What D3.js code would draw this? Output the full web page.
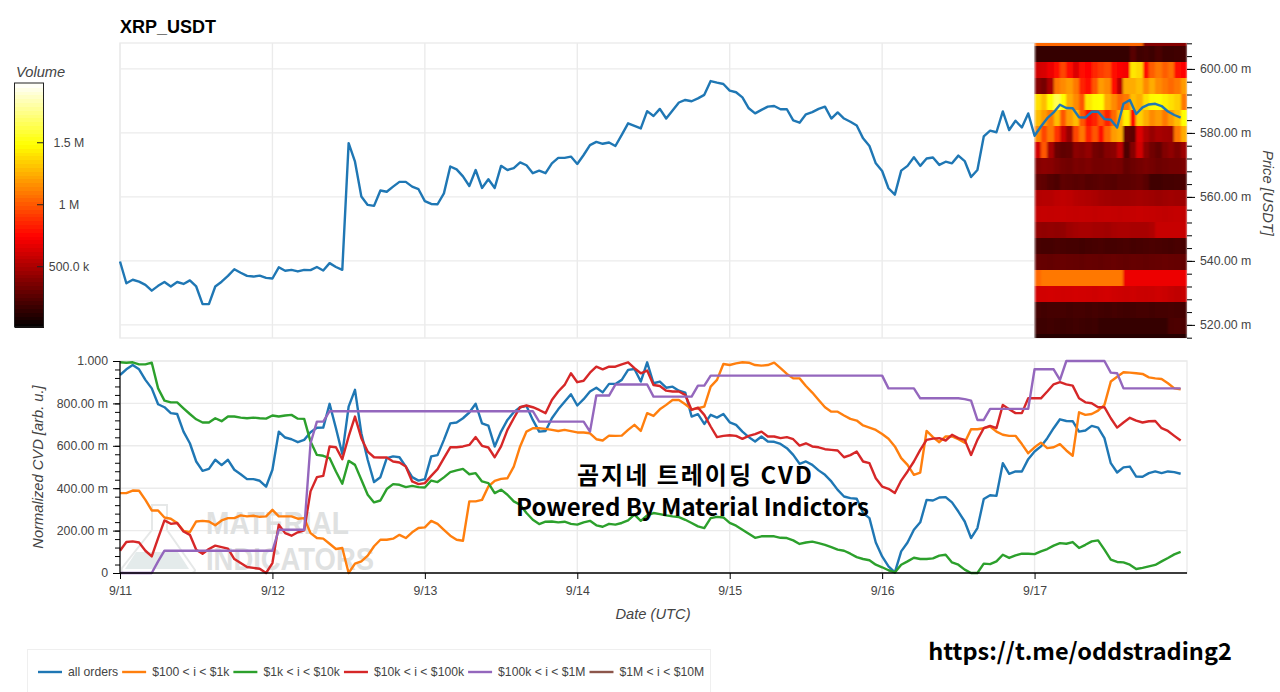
<!DOCTYPE html>
<html lang="en">
<head>
<meta charset="UTF-8">
<title>XRP_USDT CVD</title>
<style>
    body { margin: 0; background: #fff; font-family: "Liberation Sans", Arial, sans-serif; }
    svg { display: block; }
    .tick text { font-family: "Liberation Sans", Arial, sans-serif; font-size: 12.3px; fill: #444; }
    .axis-label { font-family: "Liberation Sans", Arial, sans-serif; font-size: 14.7px; font-style: italic; fill: #444; }
    .overlay { font-family: "Noto Sans CJK KR", "Noto Sans", sans-serif; font-weight: 700; fill: #000; }
</style>
<script src="https://d3js.org/d3.v7.min.js"></script>
</head>
<body>
<svg id="chart" width="1280" height="692"></svg>
<script>
// hourly samples, 9/11 00:00 to 9/17 23:00
const dayLabels = ["9/11", "9/12", "9/13", "9/14", "9/15", "9/16", "9/17"];
const dayHours = [0, 24, 48, 72, 96, 120, 144];

const priceTicks = [520, 540, 560, 580, 600];
const priceTickLabels = ["520.00 m", "540.00 m", "560.00 m", "580.00 m", "600.00 m"];
const cvdTicks = [0, 200, 400, 600, 800, 1000];
const cvdTickLabels = ["0", "200.00 m", "400.00 m", "600.00 m", "800.00 m", "1.000"];
const volumeTicks = [500, 1000, 1500];
const volumeTickLabels = ["500.0 k", "1 M", "1.5 M"];

const legendLabels = ["all orders", "$100 < i < $1k", "$1k < i < $10k", "$10k < i < $100k", "$100k < i < $1M", "$1M < i < $10M"];
const seriesColors = ["#1f77b4", "#ff7f0e", "#2ca02c", "#d62728", "#9467bd", "#8c564b"];

const price = [
    539.8,533.0,534.1,533.5,532.5,530.7,532.2,533.4,532.0,533.4,532.8,533.9,532.0,526.5,526.5,532.0,533.5,535.3,537.4,536.3,535.3,535.1,535.4,534.7,
    534.5,538.0,536.9,537.2,536.7,537.2,537.1,538.1,537.0,539.3,538.1,537.2,576.8,571.0,560.1,557.5,557.2,562.0,561.6,563.2,564.7,564.7,563.2,562.4,
    558.7,557.8,557.7,561.1,569.5,568.6,566.4,563.4,568.4,562.8,565.5,562.8,569.7,568.4,569.0,570.8,569.9,567.4,568.2,567.4,570.5,572.2,572.2,572.6,
    570.3,573.1,576.2,577.2,576.6,577.0,575.9,579.4,583.0,582.2,581.4,586.8,585.3,587.5,584.5,587.0,589.5,590.3,589.9,590.8,591.9,596.2,595.7,595.3,
    593.2,592.7,591.1,587.7,586.1,587.2,588.2,588.4,587.4,587.4,583.9,583.2,585.8,586.5,587.5,588.2,584.5,586.4,584.5,583.5,582.3,578.3,575.9,570.5,
    568.1,562.7,560.7,568.2,569.7,572.4,569.7,572.0,572.3,570.0,571.0,570.5,572.9,571.2,566.2,568.4,578.9,580.7,580.2,586.7,580.9,583.8,581.7,586.1,
    579.1,582.0,584.6,586.4,588.8,587.8,587.7,584.9,584.8,586.6,586.6,584.3,584.1,581.7,589.1,590.3,585.9,588.0,588.9,589.1,588.4,586.7,585.6,584.8
];

const allOrders = [
    934,961,981,961,911,871,796,782,754,750,667,612,526,482,491,534,509,534,487,466,443,443,435,407,
    487,667,639,631,617,628,664,685,686,798,683,562,785,864,659,534,429,452,542,550,546,502,452,436,
    443,550,556,628,706,710,730,757,798,706,695,597,667,722,758,782,788,722,667,670,730,772,808,843,
    790,820,856,874,852,892,892,911,958,962,903,994,895,903,874,879,860,851,738,749,703,746,733,750,
    711,699,667,641,620,644,620,619,609,589,557,515,526,510,484,463,432,392,361,353,350,283,259,144,
    78,31,3,102,144,204,239,345,342,356,358,333,290,243,165,212,349,367,364,518,468,479,479,537,
    573,597,636,683,725,717,716,667,672,694,686,636,518,474,498,502,455,454,471,479,471,479,476,468
];
const range100to1k = [
    377,377,389,388,345,295,295,262,256,236,199,193,243,246,243,225,248,259,259,272,267,270,265,267,
    298,267,267,267,256,259,188,165,162,138,113,118,0,44,55,82,126,157,157,162,180,165,192,212,
    215,246,232,204,176,157,152,338,338,345,408,435,444,447,502,597,667,683,683,680,675,670,675,669,
    663,663,659,631,625,648,647,648,675,699,670,754,741,772,793,816,816,796,772,777,785,879,911,986,
    981,989,994,992,981,978,981,992,966,939,918,918,882,851,816,782,761,761,743,727,719,696,686,675,
    656,633,597,542,510,463,474,670,641,617,644,644,631,615,678,678,683,691,667,652,647,647,608,565,
    593,615,589,593,608,578,553,758,746,750,766,793,903,926,947,945,942,939,923,918,915,895,871,867
];
const range1kto10k = [
    994,992,994,984,984,992,871,813,805,805,777,750,725,710,710,730,716,738,738,733,730,733,730,728,
    743,738,743,746,728,727,620,557,553,542,479,421,529,510,440,369,333,342,396,419,416,405,411,405,
    403,436,429,451,476,484,491,466,471,432,424,377,393,369,338,322,283,251,231,242,243,239,242,232,
    228,239,246,225,218,232,228,236,248,275,246,272,283,278,272,267,264,251,236,220,212,259,265,262,
    236,223,204,185,166,173,173,173,166,165,154,137,144,148,141,133,122,110,105,91,75,66,60,39,
    27,13,3,39,55,72,66,66,69,82,86,50,39,16,0,0,44,42,55,86,71,83,91,91,
    89,102,113,129,141,138,146,118,133,149,154,110,63,52,50,39,19,24,31,38,55,71,88,100
];
const range10kto100k = [
    105,146,149,144,105,78,165,248,232,236,196,180,110,91,113,129,122,115,66,47,28,24,20,0,
    47,228,188,176,192,201,385,452,458,597,593,537,644,738,636,573,546,545,545,526,521,502,432,419,
    424,458,490,542,593,593,597,604,641,600,592,546,597,675,730,782,790,782,769,754,816,856,887,942,
    900,907,945,973,961,973,973,984,994,966,942,955,887,882,860,856,856,840,769,780,746,691,641,647,
    650,647,633,647,655,667,644,644,636,641,631,601,612,597,593,584,581,578,546,556,573,526,518,447,
    408,397,377,436,479,526,581,628,634,636,625,652,636,628,557,628,683,694,683,793,772,754,754,824,
    824,824,856,890,900,890,884,824,805,801,782,782,730,686,710,732,719,710,716,717,683,670,647,625
];
const range100kto1M = [
    0,0,0,0,0,0,55,105,105,105,105,105,105,105,105,105,105,105,105,105,105,105,105,105,
    105,204,204,204,204,204,612,714,714,763,763,763,763,763,763,763,763,763,763,763,763,763,763,763,
    763,763,763,763,763,763,763,763,763,763,763,763,763,763,763,763,763,763,714,714,714,714,714,714,
    714,714,667,837,837,837,889,889,889,889,889,889,832,832,832,832,832,832,832,884,884,931,931,931,
    931,931,931,931,931,931,931,931,931,931,931,931,931,931,931,931,931,931,931,931,931,931,931,931,
    931,871,871,871,871,871,824,824,824,824,824,824,824,820,813,722,722,774,774,774,774,774,774,774,
    961,961,961,961,911,1000,1000,1000,1000,1000,1000,1000,945,942,871,871,871,871,871,871,871,871,871,871
];

// volume heatmap: one row per 5 m price bin (lower edge), one value per hour from 9/17
const binLows = [607.1,602.1,597.1,592.1,587.1,582.1,577.1,572.1,567.1,562.1,557.1,552.1,547.1,542.1,537.1,532.1,527.1,522.1,517.1,512.1];
const binSize = 5;
const heatHourStart = 144;
const heatVolume = [
    [1050,1050,1050,1050,1050,1050,1050,1050,1050,1050,1050,1050,1050,1050,1050,1050,1050,400,400,400,400,400,400,400],
    [170,170,170,170,170,170,170,170,170,170,170,170,170,170,170,270,200,210,190,230,190,190,200,210],
    [620,640,700,780,950,800,650,780,760,860,920,960,800,740,720,1420,1380,780,1020,1100,1020,1080,800,760],
    [400,350,500,1100,1150,1200,1100,850,800,1000,1200,1150,800,550,1250,1250,1300,1150,1250,1150,1100,1050,1100,1200],
    [1400,1300,1500,1650,1500,1250,1150,1000,1420,1480,1500,1250,1150,1050,1100,1300,1250,1400,1480,1500,1450,1400,1350,1100],
    [1300,1200,1100,1300,1000,1200,1300,1000,800,850,1000,850,1050,1250,1450,800,1350,1250,1150,1200,1100,1200,1300,1500],
    [1150,950,1100,900,600,450,950,1100,850,1000,800,1050,1200,1250,300,280,650,520,450,500,480,470,1100,1250],
    [620,1000,500,320,290,300,420,400,440,350,330,400,420,560,240,400,620,420,340,300,390,430,380,470],
    [400,420,410,380,350,340,370,360,380,350,350,360,370,360,300,330,350,370,350,330,340,350,350,380],
    [300,290,250,240,290,280,270,280,260,270,280,270,260,280,280,290,300,270,200,200,210,210,220,230],
    [530,540,540,560,570,560,540,530,520,510,490,480,470,470,470,480,490,480,470,460,470,480,470,470],
    [580,585,580,585,590,585,580,585,580,575,580,585,580,575,580,585,590,585,580,575,570,575,580,575],
    [440,430,440,430,440,470,490,500,500,490,490,480,500,510,510,500,500,500,520,590,590,590,590,590],
    [220,215,210,225,220,215,210,205,215,220,225,215,210,220,225,215,220,225,230,225,220,215,225,220],
    [310,305,300,310,315,310,305,300,310,305,300,310,315,305,300,310,305,300,305,310,315,310,305,300],
    [1050,1100,1100,1100,1100,1100,1100,1100,1100,1100,1100,1100,1100,1100,700,700,700,700,700,700,700,700,700,700],
    [620,620,625,620,615,620,625,620,615,610,620,625,610,605,600,610,600,595,600,610,600,580,570,590],
    [210,205,210,215,210,205,210,215,205,210,205,200,210,205,200,205,210,215,205,210,215,220,215,210],
    [190,190,195,190,185,190,195,190,185,190,170,165,170,165,170,165,170,165,170,165,170,230,240,230],
    [130,130,130,130,130,130,130,130,130,130,130,130,130,130,130,130,130,130,130,130,130,130,130,130]
];

const svg = d3.select("#chart");
const left = 120, right = 1187;
const priceTop = 43, priceBottom = 338;
const cvdTop = 361, cvdBottom = 573;

const x = d3.scaleLinear().domain([0, 168]).range([left, right]);
const yPrice = d3.scaleLinear().domain([515.9, 608.1]).range([priceBottom, priceTop]);
const yCvd = d3.scaleLinear().domain([0, 1000]).range([cvdBottom, cvdTop]);
const yBar = d3.scaleLinear().domain([14, 1982]).range([327, 83]);
const hot = d3.scaleLinear().domain([14, 752, 1490, 1982]).range(["#000000", "#ff0000", "#ffff00", "#ffffff"]).clamp(true);

function drawGrid(top, bottom, yScale, ticks) {
    const g = svg.append("g").attr("stroke", "#ebebeb").attr("stroke-width", 1.4);
    g.append("rect").attr("x", left).attr("y", top).attr("width", right - left).attr("height", bottom - top).attr("fill", "none");
    g.selectAll("line.v").data(dayHours).join("line")
        .attr("x1", d => x(d)).attr("x2", d => x(d)).attr("y1", top).attr("y2", bottom);
    g.selectAll("line.h").data(ticks).join("line")
        .attr("x1", left).attr("x2", right).attr("y1", d => yScale(d)).attr("y2", d => yScale(d));
}
drawGrid(priceTop, priceBottom, yPrice, priceTicks);
drawGrid(cvdTop, cvdBottom, yCvd, cvdTicks);

// watermark sits under the lines
const mark = svg.append("g");
mark.append("path")
    .attr("d", "M152,505 L167,505 L167,530 L195,570 Q195,573 190,573 L125,573 Q120,573 122,568 L152,530 Z")
    .attr("fill", "none").attr("stroke", "#e6e8e8").attr("stroke-width", 2);
mark.append("path")
    .attr("d", "M136,552 L178,552 L189,569 L125,569 Z")
    .attr("fill", "#e4ebeb");
mark.append("text").attr("x", 206).attr("y", 534).text("MATERIAL")
    .attr("textLength", 143).attr("lengthAdjust", "spacingAndGlyphs")
    .attr("font-size", 32).attr("font-weight", 700).attr("fill", "#dfe1e1");
mark.append("text").attr("x", 206).attr("y", 570).text("INDICATORS")
    .attr("textLength", 168).attr("lengthAdjust", "spacingAndGlyphs")
    .attr("font-size", 32).attr("font-weight", 700).attr("fill", "#dfe1e1");

// heatmap, softened sideways like the resampled image in the original
const defs = svg.append("defs");
defs.append("filter").attr("id", "soften").attr("x", 0).attr("y", 0).attr("width", 1).attr("height", 1)
    .append("feGaussianBlur").attr("stdDeviation", "1.3 0.4").attr("edgeMode", "duplicate");
const heat = svg.append("g").attr("filter", "url(#soften)").attr("shape-rendering", "crispEdges");
heatVolume.forEach((row, r) => {
    const hiPrice = Math.min(binLows[r] + binSize, yPrice.domain()[1]);
    const loPrice = Math.max(binLows[r], yPrice.domain()[0]);
    heat.append("g").selectAll("rect").data(row).join("rect")
        .attr("x", (d, c) => x(heatHourStart + c))
        .attr("width", (d, c) => x(heatHourStart + c + 1) - x(heatHourStart + c))
        .attr("y", yPrice(hiPrice))
        .attr("height", yPrice(loPrice) - yPrice(hiPrice))
        .attr("fill", d => hot(d));
});

const linePrice = d3.line().x((d, i) => x(i)).y(d => yPrice(d));
const lineCvd = d3.line().x((d, i) => x(i)).y(d => yCvd(d));

svg.append("path").datum(price).attr("d", linePrice)
    .attr("fill", "none").attr("stroke", seriesColors[0]).attr("stroke-width", 2.4).attr("stroke-linejoin", "round");

[allOrders, range100to1k, range1kto10k, range10kto100k, range100kto1M].forEach((s, i) => {
    svg.append("path").datum(s).attr("d", lineCvd)
        .attr("fill", "none").attr("stroke", seriesColors[i]).attr("stroke-width", 2.4).attr("stroke-linejoin", "round");
});

// price axis on the right
const priceAxis = d3.axisRight(yPrice).tickValues(priceTicks).tickSize(8).tickPadding(5)
    .tickFormat((d, i) => priceTickLabels[i]);
const priceAxisG = svg.append("g").attr("transform", `translate(${right},0)`).call(priceAxis);
priceAxisG.select(".domain").remove();
const priceMinor = svg.append("g").attr("transform", `translate(${right},0)`)
    .call(d3.axisRight(yPrice).tickValues(d3.range(516, 609, 4)).tickSize(5).tickFormat(""));
priceMinor.select(".domain").remove();

// cvd axes
const cvdAxis = d3.axisLeft(yCvd).tickValues(cvdTicks).tickSize(7).tickPadding(5)
    .tickFormat((d, i) => cvdTickLabels[i]);
svg.append("g").attr("transform", `translate(${left},0)`).call(cvdAxis).select(".domain")
    .attr("d", `M0,${cvdTop}V${cvdBottom}`).attr("stroke-width", 1.2);
svg.append("g").attr("transform", `translate(${left},0)`)
    .call(d3.axisLeft(yCvd).tickValues(d3.range(0, 1001, 40)).tickSize(5).tickFormat(""))
    .select(".domain").remove();

const dayAxis = d3.axisBottom(x).tickValues(dayHours).tickSize(6).tickPadding(7)
    .tickFormat((d, i) => dayLabels[i]);
svg.append("g").attr("transform", `translate(0,${cvdBottom})`).call(dayAxis).select(".domain")
    .attr("d", `M${left},0H${right}`).attr("stroke-width", 1.6);

// titles
svg.append("text").attr("x", 120).attr("y", 33).text("XRP_USDT")
    .attr("font-size", 18).attr("font-weight", 700).attr("fill", "#000");
svg.append("text").attr("class", "axis-label").attr("text-anchor", "middle")
    .attr("transform", "translate(1263,193) rotate(90)").text("Price [USDT]");
svg.append("text").attr("class", "axis-label").attr("text-anchor", "middle")
    .attr("transform", "translate(43,467) rotate(-90)").text("Normalized CVD [arb. u.]");
svg.append("text").attr("class", "axis-label").attr("text-anchor", "middle")
    .attr("x", 653).attr("y", 619).text("Date (UTC)");

// colour bar
svg.append("text").attr("class", "axis-label").attr("x", 16).attr("y", 77).text("Volume");
const barStep = (1982 - 14) / 64;
const barSteps = d3.range(0, 64).map(i => 14 + i * barStep);
svg.append("g").attr("shape-rendering", "crispEdges").selectAll("rect").data(barSteps).join("rect")
    .attr("x", 14.5).attr("width", 29)
    .attr("y", d => yBar(d + barStep))
    .attr("height", d => yBar(d) - yBar(d + barStep) + 1)
    .attr("fill", d => hot(d + barStep / 2));
svg.append("rect").attr("x", 14.5).attr("y", 83).attr("width", 29).attr("height", 244)
    .attr("fill", "none").attr("stroke", "#222").attr("stroke-width", 1);
const barTicks = svg.append("g");
barTicks.selectAll("line").data(volumeTicks).join("line")
    .attr("x1", 37).attr("x2", 43).attr("y1", d => yBar(d)).attr("y2", d => yBar(d))
    .attr("stroke", "#222");
barTicks.selectAll("text").data(volumeTicks).join("text")
    .attr("x", 69).attr("y", d => yBar(d) + 4).attr("text-anchor", "middle")
    .attr("font-size", 12.3).attr("fill", "#444")
    .text((d, i) => volumeTickLabels[i]);

// legend
svg.append("rect").attr("x", 27.5).attr("y", 649.5).attr("width", 683).attr("height", 50)
    .attr("fill", "#fff").attr("stroke", "#efefef");
let legendX = 38;
legendLabels.forEach((label, i) => {
    svg.append("line").attr("x1", legendX).attr("x2", legendX + 24).attr("y1", 672).attr("y2", 672)
        .attr("stroke", seriesColors[i]).attr("stroke-width", 2.4);
    const t = svg.append("text").attr("x", legendX + 30).attr("y", 676).text(label)
        .attr("font-size", 12.2).attr("fill", "#444");
    legendX += 30 + t.node().getComputedTextLength() + 4;
});

// overlaid captions
svg.append("text").attr("class", "overlay").attr("x", 695.5).attr("y", 484).attr("text-anchor", "middle")
    .attr("font-size", 24).attr("letter-spacing", 2).text("곰지네 트레이딩 CVD");
svg.append("text").attr("class", "overlay").attr("x", 692.5).attr("y", 516).attr("text-anchor", "middle")
    .attr("font-size", 24).text("Powered By Material Indictors");
svg.append("text").attr("class", "overlay").attr("x", 1080).attr("y", 660).attr("text-anchor", "middle")
    .attr("font-size", 23.5).text("https://t.me/oddstrading2");
</script>
</body>
</html>
